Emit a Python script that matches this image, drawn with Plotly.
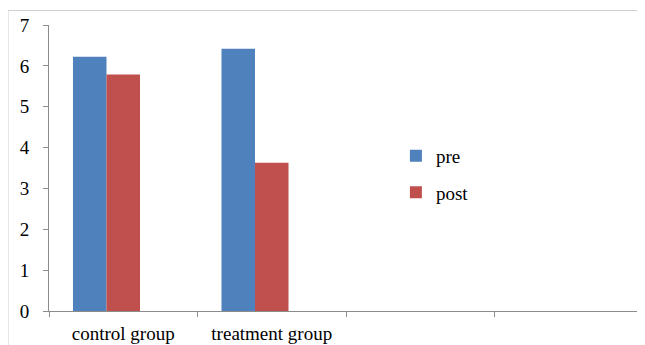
import plotly.graph_objects as go

categories = ["control group", "treatment group", " ", "  "]
pre_values = [6.22, 6.42, None, None]
post_values = [5.79, 3.63, None, None]
y_ticks = [0, 1, 2, 3, 4, 5, 6, 7]

FONT = "Liberation Serif, Times New Roman, serif"

fig = go.Figure()
fig.add_trace(go.Bar(x=categories, y=pre_values, name="pre", marker_color="#4F81BD",
                     marker_line_width=0, legendgroup="a"))
fig.add_trace(go.Bar(x=categories, y=post_values, name="post", marker_color="#C0504D",
                     marker_line_width=0, legendgroup="b"))
# empty third slot (keeps the group offset as in the original)
fig.add_trace(go.Bar(x=categories, y=[None] * len(categories), showlegend=False,
                     hoverinfo="skip"))

fig.update_layout(
    width=637, height=337,
    margin=dict(l=41, r=2, t=16.5, b=34.3, autoexpand=False),
    paper_bgcolor="white", plot_bgcolor="white",
    barmode="group", bargap=0.323, bargroupgap=0,
    font=dict(family=FONT, size=19, color="black"),
    showlegend=True,
    legend=dict(x=0.584, y=0.478, xanchor="left", yanchor="middle",
                font=dict(family=FONT, size=19, color="black"),
                tracegroupgap=9, bgcolor="rgba(0,0,0,0)", itemwidth=30),
    xaxis=dict(type="category", categoryorder="array", categoryarray=categories,
               showline=True, linecolor="#8C8C8C", linewidth=1,
               ticks="outside", tickson="boundaries", ticklen=5, tickcolor="#8C8C8C",
               showgrid=False, range=[-0.5, 3.5], tickfont=dict(size=19),
               ticklabelstandoff=5, automargin=False),
    yaxis=dict(range=[0, 7], tickvals=y_ticks, showline=True, linecolor="#8C8C8C",
               linewidth=1, ticks="outside", ticklen=5, tickcolor="#8C8C8C",
               showgrid=False, zeroline=False, tickfont=dict(size=19),
               ticklabelstandoff=10, automargin=False),
    shapes=[dict(type="rect", xref="paper", yref="paper",
                 x0=-0.069, x1=1.05, y0=-0.3, y1=1.0507,
                 line=dict(color="#D0D0D0", width=1), fillcolor="rgba(0,0,0,0)")],
)

fig.write_html("out.html")
